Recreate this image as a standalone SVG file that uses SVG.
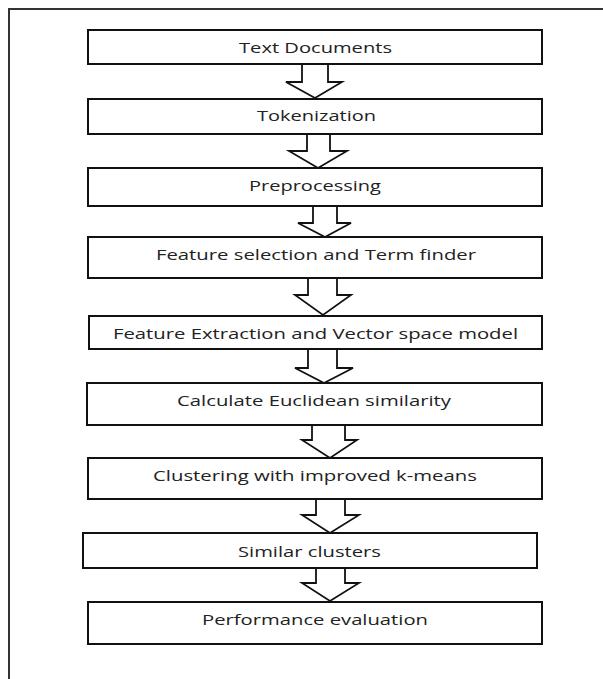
<svg xmlns="http://www.w3.org/2000/svg" width="603" height="679" viewBox="0 0 603 679">
<style>
.box{fill:#fff;stroke:#111;stroke-width:2}
.arr{fill:#fff;stroke:#111;stroke-width:1.8;stroke-linejoin:miter}
.lbl{font-family:"Open Sans","DejaVu Sans",sans-serif;font-size:15px;fill:#222}
</style>
<rect width="603" height="679" fill="#fff"/>
<path d="M9,679 V9 H603" fill="none" stroke="#333" stroke-width="2"/>
<g id="connectors">
<polygon class="arr" points="302,64 328,64 328,82 342,82 315,98 286,82 302,82"/>
<polygon class="arr" points="307,134 330,134 330,151 347,151 318,168 289,151 307,151"/>
<polygon class="arr" points="313,206 337,206 337,223 351,223 325,237 298,223 313,223"/>
<polygon class="arr" points="308,278 337,278 337,295 351,295 323,315 295,295 308,295"/>
<polygon class="arr" points="308,349 337,349 337,368 353,368 324,383 295,368 308,368"/>
<polygon class="arr" points="312,425 345,425 345,440 357,440 330,458 302,440 312,440"/>
<polygon class="arr" points="316,499 345,499 345,515 359,515 330,533 302,515 316,515"/>
<polygon class="arr" points="316,568 345,568 345,583 359,583 330,601 302,583 316,583"/>
</g>
<g id="n1"><rect class="box" x="88" y="30" width="454" height="34"/><text class="lbl" x="239" y="53" textLength="153" lengthAdjust="spacingAndGlyphs">Text Documents</text></g>
<g id="n2"><rect class="box" x="88" y="99" width="454" height="35"/><text class="lbl" x="257" y="121" textLength="119" lengthAdjust="spacingAndGlyphs">Tokenization</text></g>
<g id="n3"><rect class="box" x="88" y="168" width="454" height="38"/><text class="lbl" x="249" y="191" textLength="132" lengthAdjust="spacingAndGlyphs">Preprocessing</text></g>
<g id="n4"><rect class="box" x="88" y="237" width="454" height="41"/><text class="lbl" x="156" y="260" textLength="320" lengthAdjust="spacingAndGlyphs">Feature selection and Term finder</text></g>
<g id="n5"><rect class="box" x="89" y="316" width="453" height="33"/><text class="lbl" x="113" y="339" textLength="405" lengthAdjust="spacingAndGlyphs">Feature Extraction and Vector space model</text></g>
<g id="n6"><rect class="box" x="87" y="383" width="455" height="42"/><text class="lbl" x="177" y="406" textLength="274" lengthAdjust="spacingAndGlyphs">Calculate Euclidean similarity</text></g>
<g id="n7"><rect class="box" x="88" y="458" width="454" height="41"/><text class="lbl" x="153" y="481" textLength="324" lengthAdjust="spacingAndGlyphs">Clustering with improved k-means</text></g>
<g id="n8"><rect class="box" x="83" y="533" width="454" height="35"/><text class="lbl" x="238" y="557" textLength="143" lengthAdjust="spacingAndGlyphs">Similar clusters</text></g>
<g id="n9"><rect class="box" x="88" y="602" width="454" height="42"/><text class="lbl" x="202" y="625" textLength="226" lengthAdjust="spacingAndGlyphs">Performance evaluation</text></g>
</svg>
